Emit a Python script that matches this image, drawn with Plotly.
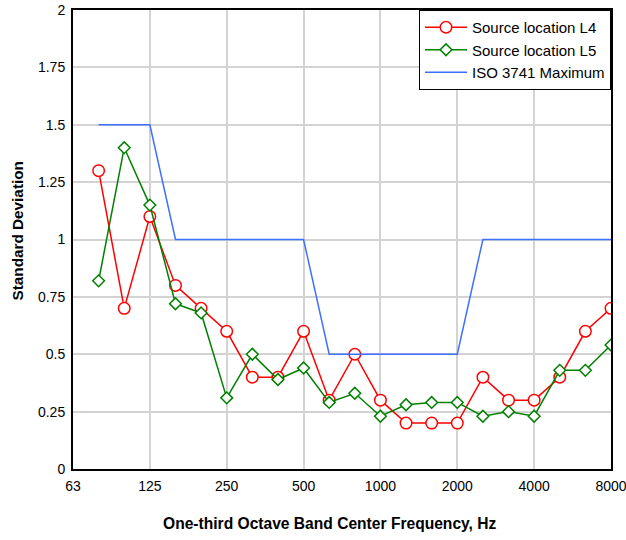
import plotly.graph_objects as go

bands = ["63", "80", "100", "125", "160", "200", "250", "315", "400", "500", "630",
         "800", "1000", "1250", "1600", "2000", "2500", "3150", "4000", "5000", "6300", "8000"]
freqs = bands[1:]
l4 = [1.3, 0.7, 1.1, 0.8, 0.7, 0.6, 0.4, 0.4, 0.6, 0.3, 0.5, 0.3, 0.2, 0.2, 0.2,
      0.4, 0.3, 0.3, 0.4, 0.6, 0.7]
l5 = [0.82, 1.4, 1.15, 0.72, 0.68, 0.31, 0.5, 0.39, 0.44, 0.29, 0.33, 0.23, 0.28,
      0.29, 0.29, 0.23, 0.25, 0.23, 0.43, 0.43, 0.54]
iso = [1.5, 1.5, 1.5, 1.0, 1.0, 1.0, 1.0, 1.0, 1.0, 0.5, 0.5, 0.5, 0.5, 0.5, 0.5,
       1.0, 1.0, 1.0, 1.0, 1.0, 1.0]
tick_labels = ["63", "125", "250", "500", "1000", "2000", "4000", "8000"]
y_ticks = [0, 0.25, 0.5, 0.75, 1, 1.25, 1.5, 1.75, 2]
x_title = "One-third Octave Band Center Frequency, Hz"
y_title = "Standard Deviation"

font = "Liberation Sans, Arial, sans-serif"

fig = go.Figure()
fig.add_trace(go.Scatter(
    x=freqs, y=l4, name="Source location L4", mode="lines+markers",
    line=dict(color="#FF0000", width=1.5),
    marker=dict(symbol="circle", size=11.5, color="white",
                line=dict(color="#FF0000", width=1.5)),
))
fig.add_trace(go.Scatter(
    x=freqs, y=l5, name="Source location L5", mode="lines+markers",
    line=dict(color="#008000", width=1.5),
    marker=dict(symbol="diamond", size=9, color="white",
                line=dict(color="#008000", width=1.5)),
))
fig.add_trace(go.Scatter(
    x=freqs, y=iso, name="ISO 3741 Maximum", mode="lines",
    line=dict(color="#3F6FFF", width=1.5),
))

fig.update_layout(
    width=626, height=540,
    margin=dict(l=73, r=15, t=10, b=71),
    paper_bgcolor="white", plot_bgcolor="white",
    font=dict(family=font, size=14, color="black"),
    showlegend=True,
    legend=dict(x=1, y=1, xanchor="right", yanchor="top",
                bgcolor="white", bordercolor="black", borderwidth=1,
                font=dict(size=15), tracegroupgap=0, itemwidth=42),
    xaxis=dict(
        type="category", categoryorder="array", categoryarray=bands,
        range=[0, len(bands) - 1], automargin=False,
        tickmode="array", tickvals=tick_labels, ticktext=tick_labels,
        showgrid=True, gridcolor="#D3D3D3", gridwidth=1.5,
        showline=True, linecolor="black", linewidth=2, mirror=True,
        ticks="outside", ticklen=3, tickcolor="rgba(0,0,0,0)",
        zeroline=False,
    ),
    yaxis=dict(
        range=[0, 2], tickmode="array", tickvals=y_ticks, automargin=False,
        ticktext=[("%g" % v) for v in y_ticks],
        showgrid=True, gridcolor="#D3D3D3", gridwidth=1.5,
        showline=True, linecolor="black", linewidth=2, mirror=True,
        ticks="outside", ticklen=3, tickcolor="rgba(0,0,0,0)",
        zeroline=False,
    ),
    annotations=[
        dict(text="<b>%s</b>" % x_title, xref="paper", yref="paper",
             x=0.4768, y=-0.1198, xanchor="center", yanchor="middle",
             showarrow=False, font=dict(size=15.6)),
        dict(text="<b>%s</b>" % y_title, xref="paper", yref="paper",
             x=-0.1032, y=0.5185, xanchor="center", yanchor="middle",
             textangle=-90, showarrow=False, font=dict(size=15.3)),
    ],
)

fig.write_html("out.html", config={"displayModeBar": False},
               post_script="document.body.style.margin='0px';")
